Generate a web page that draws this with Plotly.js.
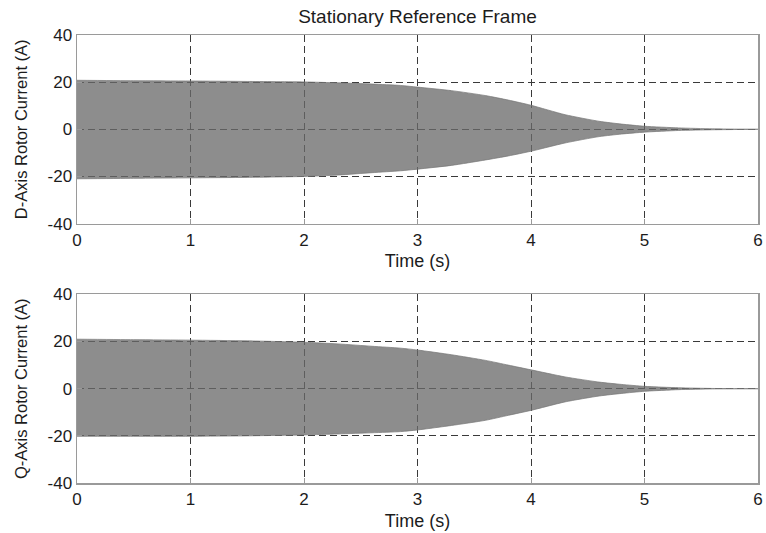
<!DOCTYPE html>
<html>
<head>
<meta charset="utf-8">
<script src="https://cdn.plot.ly/plotly-3.0.1.min.js"></script>
<style>html,body{margin:0;padding:0;background:#fff;}#chart{width:766px;height:533px;}</style>
</head>
<body>
<div id="chart"></div>
<script>
// Time samples (s) at which the envelope of the oscillating rotor currents was read
const time = [0, 0.5, 1, 1.5, 2, 2.3, 2.6, 2.85, 3, 3.3, 3.6, 3.8, 4, 4.3, 4.6, 4.8, 5, 5.3, 5.6, 6];

// D-axis rotor current envelope (A)
const dUpper = [20.8, 20.6, 20.5, 20.3, 20.1, 19.7, 19.2, 18.6, 17.9, 16.4, 14.3, 12.4, 10.2, 6.2, 3.4, 2.2, 1.3, 0.6, 0.2, 0];
const dLower = [-21.0, -20.8, -20.6, -20.4, -20.0, -19.4, -18.4, -17.6, -16.9, -15.3, -13.0, -11.3, -9.3, -5.8, -3.1, -2.0, -1.2, -0.5, -0.2, 0];

// Q-axis rotor current envelope (A)
const qUpper = [21.0, 20.8, 20.6, 20.3, 19.7, 19.0, 18.0, 17.2, 16.4, 14.4, 12.0, 10.0, 8.0, 5.0, 2.8, 1.8, 1.0, 0.4, 0.1, 0];
const qLower = [-20.2, -20.2, -20.2, -20.0, -19.6, -19.2, -18.7, -18.2, -17.5, -15.6, -13.4, -11.3, -9.2, -5.6, -3.1, -2.0, -1.1, -0.4, -0.1, 0];

const xTicks = [0, 1, 2, 3, 4, 5, 6];
const yTicks = [-40, -20, 0, 20, 40];

const titleText = 'Stationary Reference Frame';
const xTitle = 'Time (s)';
const dTitle = 'D-Axis Rotor Current (A)';
const qTitle = 'Q-Axis Rotor Current (A)';

const FONT = 'Liberation Sans, Arial, sans-serif';
const TXT = '#1c1c1c';

function band(upper, lower, xa, ya) {
  return {
    type: 'scatter', mode: 'lines',
    x: time.concat(time.slice().reverse()),
    y: upper.concat(lower.slice().reverse()),
    fill: 'toself',
    fillcolor: 'rgba(105,105,105,0.76)',
    line: {color: 'rgba(120,120,120,0.9)', width: 0.8, shape: 'spline', smoothing: 0.6},
    xaxis: xa, yaxis: ya, hoverinfo: 'skip', showlegend: false
  };
}

const traces = [band(dUpper, dLower, 'x', 'y'), band(qUpper, qLower, 'x2', 'y2')];

function xax(anchor) {
  return {
    anchor: anchor, domain: [0, 1], range: [0, 6],
    tickmode: 'array', tickvals: xTicks, ticktext: xTicks.map(String),
    showgrid: true, gridcolor: '#3a3a3a', gridwidth: 1, griddash: '7px,4px',
    zeroline: false, showline: true, mirror: true, linecolor: '#9a9a9a', linewidth: 1.5,
    ticks: 'inside', ticklen: 5, tickcolor: '#9a9a9a',
    tickfont: {family: FONT, size: 17, color: TXT},
    title: {text: xTitle, font: {family: FONT, size: 18, color: TXT}, standoff: 6},
    fixedrange: true
  };
}
function yax(anchor, dom, title) {
  return {
    anchor: anchor, domain: dom, range: [-40, 40],
    tickmode: 'array', tickvals: yTicks, ticktext: yTicks.map(String),
    showgrid: true, gridcolor: '#3a3a3a', gridwidth: 1, griddash: '7px,4px',
    zeroline: false, showline: true, mirror: true, linecolor: '#9a9a9a', linewidth: 1.5,
    ticks: 'inside', ticklen: 5, tickcolor: '#9a9a9a',
    tickfont: {family: FONT, size: 17, color: TXT},
    title: {text: title, font: {family: FONT, size: 16.5, color: TXT}, standoff: 15},
    fixedrange: true
  };
}

const layout = {
  width: 766, height: 533,
  margin: {l: 77, r: 8, t: 35, b: 50},
  paper_bgcolor: '#ffffff', plot_bgcolor: '#ffffff',
  showlegend: false,
  title: {text: titleText, font: {family: FONT, size: 19, color: TXT},
          x: 0.5, xref: 'paper', xanchor: 'center', y: 1 - 16.7 / 533, yref: 'container', yanchor: 'middle'},
  xaxis: xax('y'),
  yaxis: yax('x', [0.579, 1], dTitle),
  xaxis2: xax('y2'),
  yaxis2: yax('x2', [0, 0.421], qTitle)
};

Plotly.newPlot('chart', traces, layout, {displayModeBar: false, staticPlot: true});
</script>
</body>
</html>
